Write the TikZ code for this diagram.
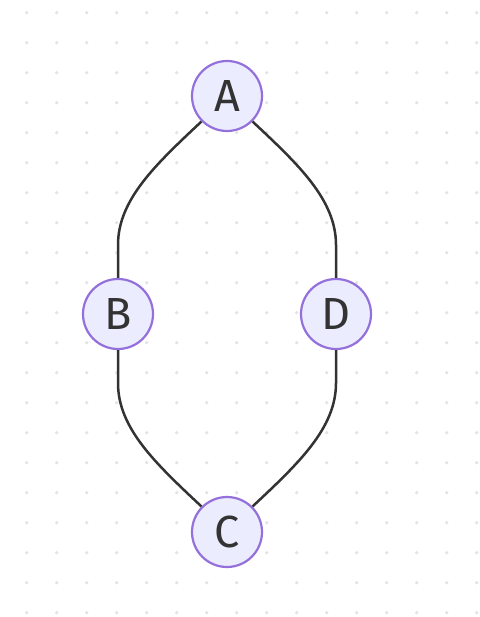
\documentclass[tikz,border=0pt]{standalone}
\usepackage{fontspec}
\setmainfont{Fira Sans}
\definecolor{nodefill}{HTML}{ECECFF}
\definecolor{nodeborder}{HTML}{9370DB}
\definecolor{ink}{HTML}{333333}
\definecolor{griddot}{HTML}{E3E3E3}
\begin{document}
\begin{tikzpicture}[x=1pt,y=-1pt,
  vertex/.style={circle,draw=nodeborder,fill=nodefill,line width=2.2pt,
    minimum size=70pt,inner sep=0pt,text=ink,
    font=\fontsize{45}{45}\selectfont},
  edge/.style={draw=ink,line width=2.5pt}]
  \useasboundingbox[fill=white] (0,0) rectangle (479,617);
  % dotted background grid
  \foreach \i in {0,...,15}{
    \foreach \j in {0,...,20}{
      \fill[griddot] (26.7+30*\i,12.7+30*\j) circle (1.8pt);
    }
  }
  \node[vertex] (A) at (227,96) {A};
  \node[vertex] (B) at (118,314) {B};
  \node[vertex] (D) at (336,314) {D};
  \node[vertex] (C) at (227,532) {C};
  \draw[edge] (A.-135) .. controls (155,165) and (118,200) .. (118,245) -- (B.north);
  \draw[edge] (A.-45) .. controls (299,165) and (336,200) .. (336,245) -- (D.north);
  \draw[edge] (B.south) -- (118,383) .. controls (118,428) and (155,463) .. (C.135);
  \draw[edge] (D.south) -- (336,383) .. controls (336,428) and (299,463) .. (C.45);
\end{tikzpicture}
\end{document}
